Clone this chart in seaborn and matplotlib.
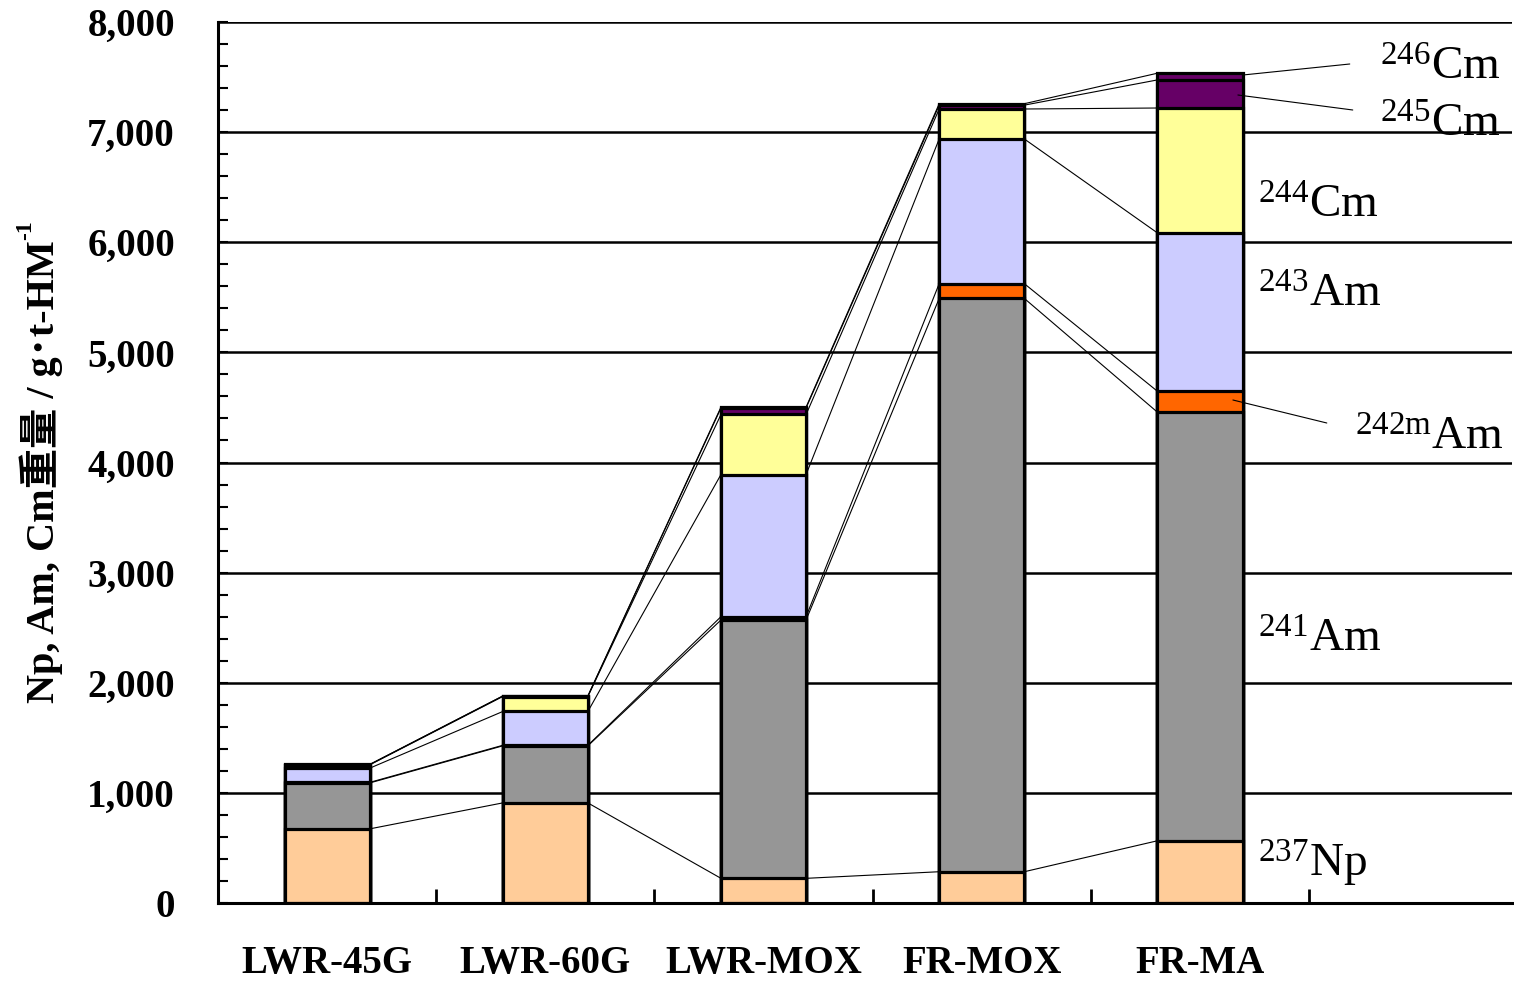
import numpy as np
import matplotlib
matplotlib.use("Agg")
import matplotlib.pyplot as plt
import seaborn as sns

# Minor actinide inventory per reactor type (g per tonne heavy metal)
categories = ["LWR-45G", "LWR-60G", "LWR-MOX", "FR-MOX", "FR-MA"]
np237 = [673, 909, 224, 284, 565]
am241 = [417, 518, 2346, 5206, 3892]
am242m = [5, 5, 30, 134, 190]
am243 = [129, 307, 1291, 1314, 1438]
cm244 = [30, 136, 545, 272, 1134]
cm245 = [3, 4, 59, 35, 255]
cm246 = [1, 1, 8, 13, 61]

layer_values = [np237, am241, am242m, am243, cm244, cm245, cm246]
layer_colors = ["#FFCC99", "#969696", "#FF6600", "#CCCCFF", "#FFFF99", "#660066", "#660066"]

y_ticks = [0, 1000, 2000, 3000, 4000, 5000, 6000, 7000, 8000]
y_label_main = "Np, Am, Cm重量 / g･t-HM"
y_label_sup = "-1"

sns.set_theme(style="white")
plt.rcParams["font.family"] = ["Liberation Serif", "Noto Sans CJK JP", "DejaVu Sans"]
plt.rcParams["mathtext.fontset"] = "custom"
plt.rcParams["mathtext.rm"] = "Liberation Serif"
plt.rcParams["mathtext.it"] = "Liberation Serif:italic"
plt.rcParams["mathtext.bf"] = "Liberation Serif:bold"
plt.rcParams["text.color"] = "black"
plt.rcParams["xtick.color"] = "black"
plt.rcParams["ytick.color"] = "black"
plt.rcParams["axes.labelcolor"] = "black"

W, H = 1514, 982
fig = plt.figure(figsize=(W / 100, H / 100), dpi=100)
ax = fig.add_axes([218 / W, 1 - 903 / H, (1512 - 218) / W, (903 - 22) / H])

cum = np.cumsum(np.array(layer_values, dtype=float), axis=0)
bar_w = 0.39

# Stacked bars: draw each cumulative total from the top layer downwards
for k in reversed(range(len(layer_values))):
    sns.barplot(x=categories, y=cum[k], order=categories, color=layer_colors[k],
                saturation=1, width=bar_w, edgecolor="black", linewidth=2.3,
                errorbar=None, ax=ax, zorder=3)

# Series lines joining the top of each layer between neighbouring bars
for k in range(len(layer_values)):
    for i in range(len(categories) - 1):
        ax.plot([i + bar_w / 2, i + 1 - bar_w / 2], [cum[k, i], cum[k, i + 1]],
                color="black", lw=0.8, zorder=2)

ax.set_xlim(-0.5, 5.43)
ax.set_ylim(0, 8000)
ax.set_xlabel("")
ax.set_ylabel("")

for side in ["top", "right"]:
    ax.spines[side].set_visible(False)
for side in ["left", "bottom"]:
    ax.spines[side].set_color("black")
    ax.spines[side].set_linewidth(2.2)
    ax.spines[side].set_zorder(4)

ax.yaxis.grid(True, color="black", lw=1.8)
ax.set_axisbelow(True)

ax.set_yticks(y_ticks)
ax.set_yticklabels([f"{v:,}" for v in y_ticks], fontsize=28, fontweight="bold")
ax.set_yticks(np.arange(0, 8001, 200), minor=True)
ax.tick_params(axis="y", which="both", direction="in", left=True, length=7,
               width=1.5, color="black", pad=31, labelcolor="black")

ax.set_xticks([0.5, 1.5, 2.5, 3.5, 4.5])
ax.set_xticklabels([])
ax.set_xticks(range(len(categories)), minor=True)
ax.set_xticklabels(categories, minor=True, fontsize=28, fontweight="bold")
ax.tick_params(axis="x", which="major", direction="in", bottom=True, length=10,
               width=2, color="black")
ax.tick_params(axis="x", which="minor", bottom=True, length=0, pad=30, labelcolor="black")

# Nuclide labels beside the FR-MA bar
def px_to_data(px, py):
    return (px - 326) / 218.5, (903 - py) / (881 / 8000)

labels = [
    (r"$^{246}$Cm", 1380, 80),
    (r"$^{245}$Cm", 1380, 137),
    (r"$^{244}$Cm", 1258, 218),
    (r"$^{243}$Am", 1258, 307),
    (r"$^{242\mathrm{m}}$Am", 1355, 450),
    (r"$^{241}$Am", 1258, 652),
    (r"$^{237}$Np", 1258, 877),
]
for txt, px, py in labels:
    x, y = px_to_data(px, py)
    ax.text(x, y, txt, fontsize=34, ha="left", va="baseline", color="black",
            zorder=5, clip_on=False)

leaders = [((1243, 75), (1350, 64)), ((1238, 95), (1353, 110)), ((1233, 400), (1327, 423))]
for (x0, y0), (x1, y1) in leaders:
    a = px_to_data(x0, y0)
    b = px_to_data(x1, y1)
    ax.plot([a[0], b[0]], [a[1], b[1]], color="black", lw=0.8, zorder=5, clip_on=False)

# Rotated axis title with a superscript exponent at its end
ylab = fig.text(41 / W, 1 - 472 / H, y_label_main, rotation=90, ha="center", va="center",
                fontsize=29, fontweight="bold", color="black",
                family=["Liberation Serif", "Noto Sans CJK JP", "DejaVu Sans"])
fig.canvas.draw()
bb = ylab.get_window_extent()
fig.text((bb.x0 - 4) / W, (bb.y1 + 1) / H, y_label_sup, rotation=90, ha="left", va="bottom",
         fontsize=17, fontweight="bold", color="black",
         family=["Liberation Serif", "DejaVu Sans"])

fig.savefig("out.png", dpi=100)
